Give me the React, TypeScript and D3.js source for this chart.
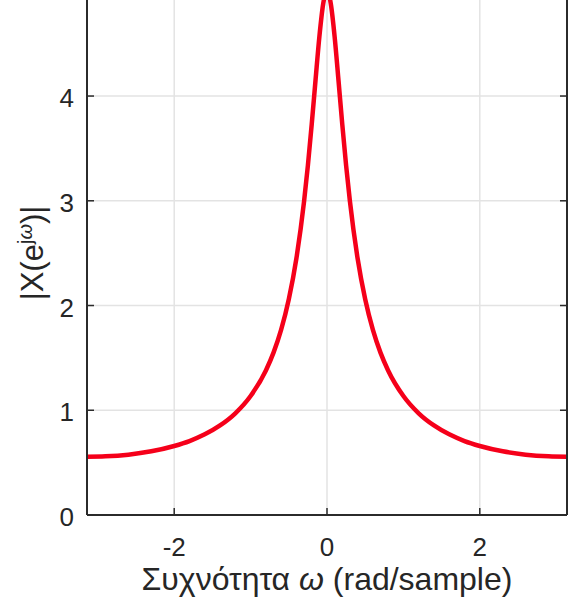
import React from "react";
import * as d3 from "d3";

const omega = [
  -3.1416, -2.9, -2.6, -2.3, -2.0, -1.8, -1.6, -1.4, -1.2, -1.0, -0.8, -0.7, -0.6, -0.5, -0.4, -0.3,
  -0.25, -0.2, -0.15, -0.1, -0.05, -0.025, 0, 0.025, 0.05, 0.1, 0.15, 0.2, 0.25, 0.3, 0.4, 0.5, 0.6,
  0.7, 0.8, 1.0, 1.2, 1.4, 1.6, 1.8, 2.0, 2.3, 2.6, 2.9, 3.1416,
];
const magnitude = [
  0.556, 0.56, 0.576, 0.608, 0.659, 0.706, 0.77, 0.855, 0.971, 1.136, 1.38, 1.55, 1.769, 2.059, 2.452,
  2.995, 3.338, 3.73, 4.153, 4.565, 4.88, 4.969, 5.0, 4.969, 4.88, 4.565, 4.153, 3.73, 3.338, 2.995,
  2.452, 2.059, 1.769, 1.55, 1.38, 1.136, 0.971, 0.855, 0.77, 0.706, 0.659, 0.608, 0.576, 0.56, 0.556,
];
const xTicks = [-2, 0, 2];
const yTicks = [0, 1, 2, 3, 4];

const W = 577;
const H = 599;
const left = 87;
const right = 567;
const bottom = 515;
const top = -8.7;

export default function App() {
  const x = d3.scaleLinear().domain([-Math.PI, Math.PI]).range([left, right]);
  const y = d3.scaleLinear().domain([0, 5]).range([bottom, top]);
  const pts = omega.map((w, i) => [w, magnitude[i]] as [number, number]);
  const line = d3
    .line<[number, number]>()
    .x((d) => x(d[0]))
    .y((d) => y(d[1]))
    .curve(d3.curveMonotoneX);
  const font = "'Liberation Sans', Arial, sans-serif";
  const axisColor = "#2b2b2b";
  const textColor = "#262626";
  return (
    <svg
      width={W}
      height={H}
      style={{ position: "absolute", left: 0, top: 0, background: "#fff" }}
      fontFamily={font}
    >
      <rect x={0} y={0} width={W} height={H} fill="#fff" />
      {xTicks.map((t) => (
        <line key={"gx" + t} x1={x(t)} x2={x(t)} y1={y(5)} y2={bottom} stroke="#e3e3e3" strokeWidth={1.5} />
      ))}
      {[1, 2, 3, 4].map((t) => (
        <line key={"gy" + t} x1={left} x2={right} y1={y(t)} y2={y(t)} stroke="#e3e3e3" strokeWidth={1.5} />
      ))}
      <path d={line(pts) || ""} fill="none" stroke="#f5001a" strokeWidth={4.5} strokeLinejoin="round" />
      <line x1={left} x2={left} y1={0} y2={bottom} stroke={axisColor} strokeWidth={2} />
      <line x1={right} x2={right} y1={0} y2={bottom} stroke={axisColor} strokeWidth={2} />
      <line x1={left} x2={right} y1={bottom} y2={bottom} stroke={axisColor} strokeWidth={2} />
      {yTicks.map((t) => (
        <g key={"yt" + t}>
          <line x1={left} x2={left + 7} y1={y(t)} y2={y(t)} stroke={axisColor} strokeWidth={1.5} />
          <line x1={right} x2={right - 7} y1={y(t)} y2={y(t)} stroke={axisColor} strokeWidth={1.5} />
          <text x={74} y={y(t) + 2} dy="0.35em" textAnchor="end" fontSize={26} fill={textColor}>
            {t}
          </text>
        </g>
      ))}
      {xTicks.map((t) => (
        <g key={"xt" + t}>
          <line x1={x(t)} x2={x(t)} y1={bottom} y2={bottom - 7} stroke={axisColor} strokeWidth={1.5} />
          <text x={x(t)} y={547} dy="0.35em" textAnchor="middle" fontSize={26} fill={textColor}>
            {t}
          </text>
        </g>
      ))}
      <text x={327} y={590} textAnchor="middle" fontSize={32} fill={textColor}>
        Συχνότητα <tspan fontStyle="italic">ω</tspan> (rad/sample)
      </text>
      <text transform={`translate(43, 253) rotate(-90)`} textAnchor="middle" fontSize={31} fill={textColor}>
        |X(e
        <tspan dy="-11" fontSize={20}>
          j<tspan fontStyle="italic">ω</tspan>
        </tspan>
        <tspan dy="11">)|</tspan>
      </text>
    </svg>
  );
}
